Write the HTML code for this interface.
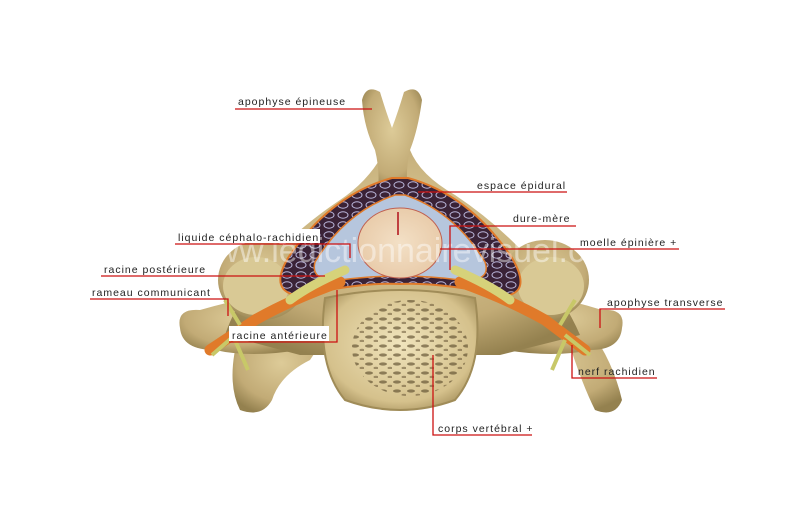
<!DOCTYPE html>
<html><head><meta charset="utf-8"><style>
html,body{margin:0;padding:0;background:#fff;width:800px;height:527px;overflow:hidden}
svg{display:block}
text{font-family:"Liberation Sans",sans-serif;font-size:10.5px;letter-spacing:1px;fill:#222}
</style></head><body>
<svg width="800" height="527" viewBox="0 0 800 527">
<defs>
<radialGradient id="bone" cx="50%" cy="40%" r="65%">
<stop offset="0" stop-color="#ddcb98"/><stop offset="0.7" stop-color="#c2ab76"/><stop offset="1" stop-color="#94814f"/>
</radialGradient>
<radialGradient id="body" cx="50%" cy="45%" r="60%">
<stop offset="0" stop-color="#f0e4bc"/><stop offset="0.8" stop-color="#d5c18c"/><stop offset="1" stop-color="#ab9662"/>
</radialGradient>
<radialGradient id="cord" cx="50%" cy="50%" r="55%">
<stop offset="0" stop-color="#f3e0c6"/><stop offset="1" stop-color="#e8caa8"/>
</radialGradient>
<pattern id="spong" width="14" height="9" patternUnits="userSpaceOnUse">
<ellipse cx="5" cy="4" rx="4" ry="1.6" fill="#5b4a2c" opacity="0.75"/>
<ellipse cx="12" cy="8" rx="2.5" ry="1.2" fill="#5b4a2c" opacity="0.6"/>
</pattern>
<pattern id="fat" width="14" height="10" patternUnits="userSpaceOnUse">
<rect width="14" height="10" fill="#3a2236"/>
<ellipse cx="7" cy="5" rx="5" ry="3.2" fill="none" stroke="#b8b4d8" stroke-width="1"/>
</pattern>
</defs>
<!-- lower legs -->
<path d="M240 330 Q225 380 240 410 Q262 418 272 400 Q280 375 310 360 L330 330 Z" fill="url(#bone)"/>
<path d="M565 330 Q580 380 595 410 Q615 418 622 400 Q615 370 600 345 L470 330 Z" fill="url(#bone)"/>
<!-- transverse processes -->
<path d="M180 328 Q176 308 200 310 Q235 300 265 295 L300 350 Q250 358 215 350 Q182 350 180 328 Z" fill="url(#bone)"/>
<path d="M622 328 Q626 308 602 310 Q570 300 540 295 L505 350 Q555 358 590 350 Q620 350 622 328 Z" fill="url(#bone)"/>
<!-- main arch -->
<path d="M385 150 Q370 180 340 200 Q295 230 262 268 Q235 305 225 335 L300 355 L500 355 L580 335 Q565 300 535 265 Q500 225 455 195 Q420 175 410 150 Z" fill="url(#bone)"/>
<!-- spinous -->
<path d="M362 100 Q366 84 380 92 Q386 112 392 128 Q398 112 404 92 Q418 84 422 100 Q418 130 410 150 Q405 172 408 190 L378 190 Q380 170 375 150 Q364 128 362 100 Z" fill="url(#bone)"/>
<!-- articular -->
<ellipse cx="262" cy="280" rx="44" ry="40" fill="url(#bone)"/>
<ellipse cx="256" cy="286" rx="33" ry="29" fill="#d9c995"/>
<ellipse cx="545" cy="280" rx="44" ry="40" fill="url(#bone)"/>
<ellipse cx="551" cy="286" rx="33" ry="29" fill="#d9c995"/>
<!-- body -->
<path d="M325 298 Q400 282 475 298 Q485 365 455 400 Q400 420 345 400 Q316 365 325 298 Z" fill="url(#body)" stroke="#a08c58" stroke-width="2"/>
<ellipse cx="410" cy="348" rx="58" ry="48" fill="url(#spong)" opacity="0.85"/>
<!-- canal -->
<path d="M392 178 Q330 195 288 258 Q268 292 300 296 Q360 282 400 284 Q440 282 505 296 Q532 292 512 258 Q470 195 408 178 Z" fill="url(#fat)" stroke="#e07a2a" stroke-width="2"/>
<path d="M395 195 Q345 212 315 262 Q310 282 340 280 Q400 272 460 280 Q492 282 485 262 Q455 212 405 195 Z" fill="#b6c6dd" stroke="#e07a2a" stroke-width="1.5"/>
<ellipse cx="400" cy="243" rx="42" ry="35" fill="url(#cord)" stroke="#c06050" stroke-width="1"/>
<path d="M398 212 L398 235" stroke="#c04040" stroke-width="2"/>
<!-- nerves -->
<path d="M340 282 Q290 300 255 320 L210 350" stroke="#e07a2a" stroke-width="11" fill="none" stroke-linecap="round"/>
<path d="M345 270 Q310 285 290 300" stroke="#d6d27a" stroke-width="9" fill="none" stroke-linecap="round"/>
<path d="M460 282 Q510 300 545 320 L585 350" stroke="#e07a2a" stroke-width="11" fill="none" stroke-linecap="round"/>
<path d="M455 270 Q490 285 510 300" stroke="#d6d27a" stroke-width="9" fill="none" stroke-linecap="round"/>
<path d="M235 335 L212 355 M225 300 L240 325 M235 340 L248 370" stroke="#c8c868" stroke-width="4" fill="none"/>
<path d="M565 335 L590 355 M575 300 L560 325 M565 340 L552 370" stroke="#c8c868" stroke-width="4" fill="none"/>
<!-- watermark -->
<text x="190" y="262" style="font-size:34px;letter-spacing:0;fill:#ffffff;opacity:0.45">www.ledictionnairevisuel.com</text>
<!-- labels -->
<g stroke="#cc1111" stroke-width="1.3" fill="none">
<path d="M235 109 H372"/>
<path d="M567 192 H418"/>
<path d="M576 226 H450 V270"/>
<path d="M175 244 H350 V258"/>
<path d="M679 249 H440"/>
<path d="M101 276 H325"/>
<path d="M90 299 H228 V316"/>
<path d="M229 342 H337 V290"/>
<path d="M725 309 H600 V328"/>
<path d="M657 378 H572 V345"/>
<path d="M532 435 H433 V355"/>
</g>
<rect x="229" y="326" width="100" height="15" fill="#fff"/>
<rect x="176" y="229" width="144" height="14" fill="#fff"/>
<text x="238" y="105">apophyse épineuse</text>
<text x="477" y="189">espace épidural</text>
<text x="513" y="222">dure-mère</text>
<text x="178" y="241">liquide céphalo-rachidien</text>
<text x="580" y="246">moelle épinière +</text>
<text x="104" y="273">racine postérieure</text>
<text x="92" y="296">rameau communicant</text>
<text x="232" y="339">racine antérieure</text>
<text x="607" y="306">apophyse transverse</text>
<text x="578" y="375">nerf rachidien</text>
<text x="438" y="432">corps vertébral +</text>
</svg>
</body></html>
